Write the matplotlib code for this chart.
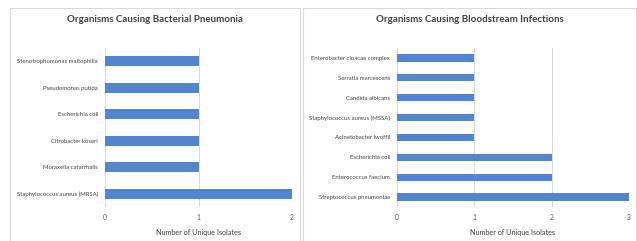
import matplotlib.pyplot as plt
from matplotlib.patches import Rectangle

# data (bottom to top)
pneu_orgs = ["Staphylococcus aureus (MRSA)", "Moraxella catarrhalis", "Citrobacter koseri",
             "Escherichia coli", "Pseudomonas putida", "Stenotrophomonas maltophilia"]
pneu_counts = [2, 1, 1, 1, 1, 1]

blood_orgs = ["Streptococcus pneumoniae", "Enterococcus faecium", "Escherichia coli",
              "Acinetobacter lwoffii", "Staphylococcus aureus (MSSA)", "Candida albicans",
              "Serratia marcescens", "Enterobacter cloacae complex"]
blood_counts = [3, 2, 2, 1, 1, 1, 1, 1]

plt.rcParams['font.family'] = ['Lato', 'DejaVu Sans']
W, H = 637, 241
fig = plt.figure(figsize=(W/100, H/100), dpi=100)

# panel borders
for (x0, x1) in [(10, 300), (303, 636)]:
    fig.patches.append(Rectangle((x0/W, -0.05), (x1-x0)/W, 1.05 - 8/H, transform=fig.transFigure,
                                 fill=False, edgecolor='#d9d9d9', linewidth=0.8))

barcol = '#5285CC'

def panel(rect, orgs, counts, xmax, title, title_x):
    ax = fig.add_axes(rect)
    ax.barh(range(len(orgs)), counts, height=0.36, color=barcol, zorder=2)
    ax.set_xlim(0, xmax)
    ax.set_ylim(-0.5, len(orgs) - 0.5)
    ax.set_xticks(range(xmax + 1))
    ax.set_yticks(range(len(orgs)))
    ax.set_yticklabels(orgs, fontsize=4.3, color='#404040')
    ax.tick_params(axis='x', labelsize=4.8, colors='#595959', length=0, pad=5)
    ax.tick_params(axis='y', length=0, pad=5)
    ax.grid(axis='x', color='#d9d9d9', linewidth=0.7, zorder=0)
    for s in ax.spines.values():
        s.set_visible(False)
    ax.set_xlabel("Number of Unique Isolates", fontsize=5.2, color='#404040', labelpad=6)
    fig.text(title_x, 1 - 20/H, title, fontsize=7, fontweight='bold', color='#404040',
             ha='center', va='center')
    return ax

panel([105/W, 1 - 207/H, 187/W, 159/H], pneu_orgs, pneu_counts, 2,
      "Organisms Causing Bacterial Pneumonia", 155/W)
panel([397/W, 1 - 207/H, 232/W, 159/H], blood_orgs, blood_counts, 3,
      "Organisms Causing Bloodstream Infections", 470/W)

fig.savefig("out.png", dpi=100)
